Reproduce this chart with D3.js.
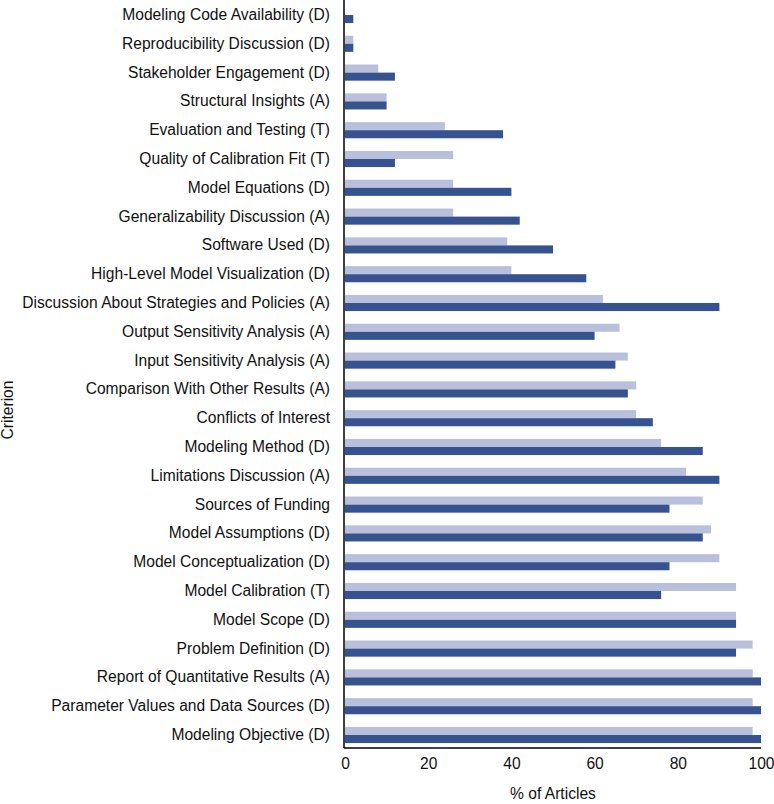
<!DOCTYPE html>
<html>
<head>
<meta charset="utf-8">
<script src="https://cdn.jsdelivr.net/npm/d3@7"></script>
<style>
  body { margin: 0; background: #fff; }
  svg { display: block; font-family: "Liberation Sans", Arial, sans-serif; }
</style>
</head>
<body>
<svg id="chart" width="774" height="804"></svg>
<script>
const categories = [
  "Modeling Code Availability (D)",
  "Reproducibility Discussion (D)",
  "Stakeholder Engagement (D)",
  "Structural Insights (A)",
  "Evaluation and Testing (T)",
  "Quality of Calibration Fit (T)",
  "Model Equations (D)",
  "Generalizability Discussion (A)",
  "Software Used (D)",
  "High-Level Model Visualization (D)",
  "Discussion About Strategies and Policies (A)",
  "Output Sensitivity Analysis (A)",
  "Input Sensitivity Analysis (A)",
  "Comparison With Other Results (A)",
  "Conflicts of Interest",
  "Modeling Method (D)",
  "Limitations Discussion (A)",
  "Sources of Funding",
  "Model Assumptions (D)",
  "Model Conceptualization (D)",
  "Model Calibration (T)",
  "Model Scope (D)",
  "Problem Definition (D)",
  "Report of Quantitative Results (A)",
  "Parameter Values and Data Sources (D)",
  "Modeling Objective (D)"
];
const seriesLight = [0, 2, 8, 10, 24, 26, 26, 26, 39, 40, 62, 66, 68, 70, 70, 76, 82, 86, 88, 90, 94, 94, 98, 98, 98, 98];
const seriesDark  = [2, 2, 12, 10, 38, 12, 40, 42, 50, 58, 90, 60, 65, 68, 74, 86, 90, 78, 86, 78, 76, 94, 94, 100, 100, 100];
const xTicks = [0, 20, 40, 60, 80, 100];
const seriesNames = ["light", "dark"];
const colors = { light: "#b9c0dc", dark: "#36528f" };
const fontSize = "15.6px";

const svg = d3.select("#chart");
const x = d3.scaleLinear().domain([0, 100]).range([345, 761]);
const y = d3.scaleBand().domain(categories).range([0.6, 749.4]).paddingInner(0.44).paddingOuter(0.22);
const sub = d3.scaleBand().domain(seriesNames).range([0, y.bandwidth()]).padding(0);

const rows = categories.map((c, i) => ({ c, light: seriesLight[i], dark: seriesDark[i] }));

const g = svg.append("g");
rows.forEach(r => {
  seriesNames.forEach(s => {
    g.append("rect")
      .attr("x", x(0))
      .attr("y", y(r.c) + sub(s))
      .attr("width", x(r[s]) - x(0))
      .attr("height", sub.bandwidth())
      .attr("fill", colors[s]);
  });
});

// y axis
const yAxis = d3.axisLeft(y).tickSize(0).tickPadding(14);
const yg = svg.append("g").attr("transform", "translate(344,0)").call(yAxis);
yg.select(".domain").attr("stroke", "#000").attr("stroke-width", 1.5).attr("d", "M0,0V748");
yg.selectAll("text").attr("font-size", fontSize).attr("fill", "#111");

// x axis
const xAxis = d3.axisBottom(x).tickValues(xTicks).tickSize(0).tickPadding(10);
const xg = svg.append("g").attr("transform", "translate(0,748)").call(xAxis);
xg.select(".domain").attr("stroke", "#000").attr("stroke-width", 1.5).attr("d", "M344,0H761");
xg.selectAll("text").attr("font-size", fontSize).attr("fill", "#111");

svg.append("text")
  .attr("x", x(50)).attr("y", 799)
  .attr("text-anchor", "middle")
  .attr("font-size", fontSize).attr("fill", "#111")
  .text("% of Articles");

svg.append("text")
  .attr("transform", "translate(13,410) rotate(-90)")
  .attr("text-anchor", "middle")
  .attr("font-size", fontSize).attr("fill", "#111")
  .text("Criterion");
</script>
</body>
</html>
